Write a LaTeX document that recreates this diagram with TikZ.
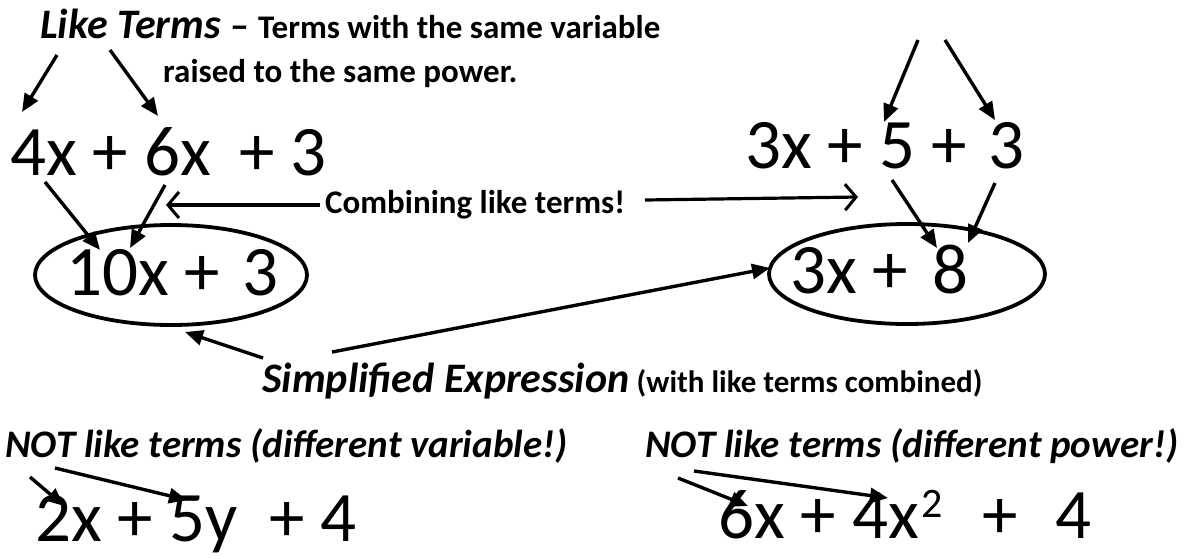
\documentclass[tikz,border=0pt]{standalone}
\usepackage{fontspec}
\setmainfont{Carlito}
\usetikzlibrary{arrows.meta,shapes.geometric}
\tikzset{
  lbl/.style={font=\fontsize{33}{36}\selectfont\bfseries, inner sep=0pt, anchor=base west},
  big/.style={font=\fontsize{39}{42}\selectfont\bfseries\itshape, inner sep=0pt, anchor=base west},
  expr/.style={font=\fontsize{71}{76}\selectfont, inner sep=0pt, anchor=base west},
  arr/.style={line width=3.4pt, -{Triangle[length=18pt,width=15pt]}},
  barb/.style={line width=3.2pt, -{Straight Barb[length=11pt,width=26pt,line width=3pt]}},
  oval/.style={draw, ellipse, line width=3.8pt, inner sep=0pt}
}
\begin{document}
\begin{tikzpicture}[x=1pt,y=-1pt]
\useasboundingbox (0,0) rectangle (1191,558);
\fill[white] (0,0) rectangle (1191,558);
% top label
\node[big, font=\fontsize{42}{44}\selectfont\bfseries\itshape] (like) at (40,38) {Like Terms};
\node[lbl, font=\fontsize{38}{40}\selectfont\bfseries] (dash) at (230,38) {–};
\node[lbl] (def1) at (258,38) {Terms with the same variable};
\node[lbl] (def2) at (163,82) {raised to the same power.};
% expressions
\node[expr] (e1) at (10,175) {4x + 6x\hspace{12pt} + 3};
\node[expr] (e2) at (745,168) {3x + 5 +\hspace{6pt} 3};
\node[oval, minimum width=272pt, minimum height=100pt] (ell1) at (171,275) {};
\node[expr] (s1) at (66,295) {10x +\hspace{6pt} 3};
\node[oval, minimum width=276pt, minimum height=100pt] (ell2) at (907,274) {};
\node[expr] (s2) at (790,293) {3x +\hspace{8pt} 8};
\node[lbl] (comb) at (325,213) {Combining like terms!};
\node[lbl] (simp) at (262,392) {{\fontsize{42}{44}\selectfont\itshape Simplified Expression} {\fontsize{31}{34}\selectfont(with like terms combined)}};
\node[big] (not1) at (5,457) {NOT like terms (different variable!)};
\node[big] (not2) at (645,457) {NOT like terms (different power!)};
\node[expr] (e3) at (35,541) {2x + 5y\hspace{16pt} + 4};
\node[expr] (e4) at (718,538) {6x + 4x\hspace{2pt}\raisebox{21pt}{\fontsize{42}{42}\selectfont 2}\hspace{24pt} +\hspace{22pt} 4};
% arrow ends
\coordinate (a1s) at (57,55);  \coordinate (a1e) at (22,112);
\coordinate (a2s) at (110,50); \coordinate (a2e) at (158,116);
\coordinate (a3s) at (45,182); \coordinate (a3e) at (100,250);
\coordinate (a4s) at (165,185);\coordinate (a4e) at (130,248);
\coordinate (c1s) at (320,205);\coordinate (c1e) at (166,205);
\coordinate (c2s) at (645,200);\coordinate (c2e) at (858,197);
\coordinate (a5s) at (918,40); \coordinate (a5e) at (884,122);
\coordinate (a6s) at (945,40); \coordinate (a6e) at (995,120);
\coordinate (a7s) at (892,180);\coordinate (a7e) at (937,248);
\coordinate (a8s) at (995,183);\coordinate (a8e) at (968,243);
\coordinate (a9s) at (263,358);\coordinate (a9e) at (185,332);
\coordinate (a10s) at (332,352);\coordinate (a10e) at (770,268);
\coordinate (b1s) at (30,477); \coordinate (b1e) at (64,506);
\coordinate (b2s) at (55,468); \coordinate (b2e) at (187,500);
\coordinate (b3s) at (678,478);\coordinate (b3e) at (748,506);
\coordinate (b4s) at (694,471);\coordinate (b4e) at (888,498);
\draw[arr] (a1s) -- (a1e);
\draw[arr] (a2s) -- (a2e);
\draw[arr] (a3s) -- (a3e);
\draw[arr] (a4s) -- (a4e);
\draw[barb] (c1s) -- (c1e);
\draw[barb] (c2s) -- (c2e);
\draw[arr] (a5s) -- (a5e);
\draw[arr] (a6s) -- (a6e);
\draw[arr] (a7s) -- (a7e);
\draw[arr] (a8s) -- (a8e);
\draw[arr] (a9s) -- (a9e);
\draw[arr] (a10s) -- (a10e);
\draw[arr] (b1s) -- (b1e);
\draw[arr] (b2s) -- (b2e);
\draw[arr] (b3s) -- (b3e);
\draw[arr] (b4s) -- (b4e);
\end{tikzpicture}
\end{document}
